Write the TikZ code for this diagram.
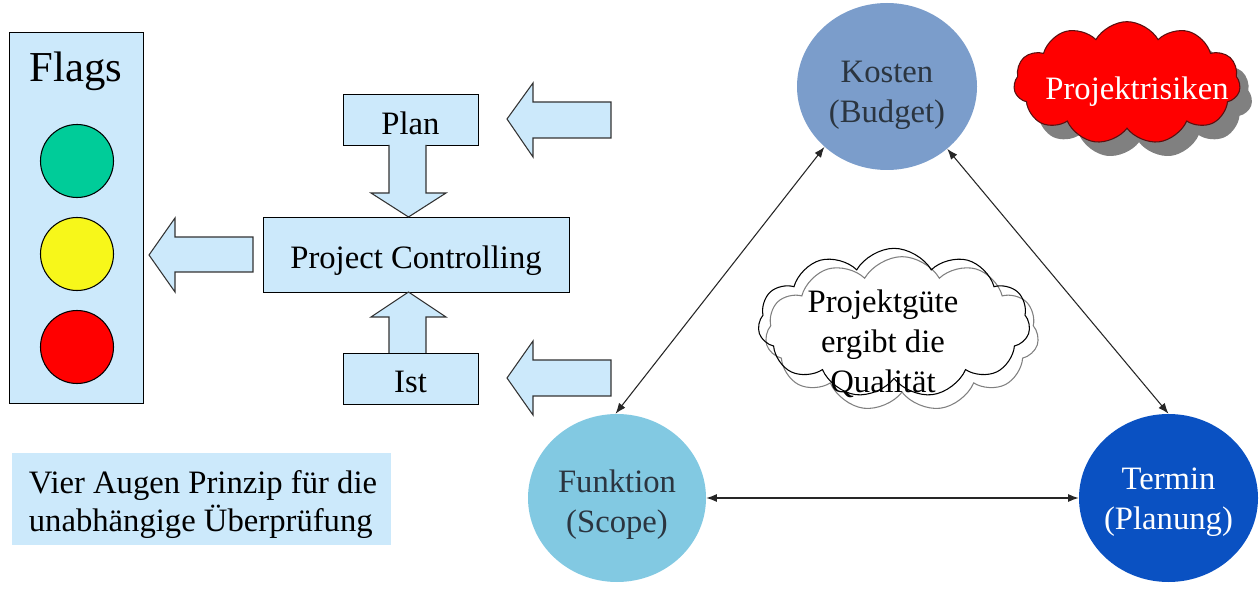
\documentclass[tikz,border=0pt]{standalone}
\usepackage{fontspec}
\setmainfont{Liberation Serif}
\usetikzlibrary{shapes.geometric,shapes.symbols,arrows.meta}
\definecolor{lblue}{HTML}{CCE9FB}
\definecolor{flaggreen}{HTML}{00CC99}
\definecolor{flagyellow}{HTML}{F7F71A}
\definecolor{flagred}{HTML}{FF0000}
\definecolor{kostenc}{HTML}{7B9DCB}
\definecolor{funktionc}{HTML}{82C9E2}
\definecolor{terminc}{HTML}{0A51C2}
\definecolor{darktext}{HTML}{2B3540}
\definecolor{cloudred}{HTML}{FF0000}
\definecolor{cloudedge}{HTML}{5A1010}
\begin{document}
\begin{tikzpicture}[x=0.75pt,y=-0.75pt,
  txt/.style={font=\fontsize{24.5}{30}\selectfont, align=center, inner sep=0pt},
  box/.style={draw=black, fill=lblue, line width=0.7pt, inner sep=0pt},
  flag/.style={circle, draw=black, line width=0.8pt, minimum size=54.75pt, inner sep=0pt},
  blockarrow/.style={draw=black!80, fill=lblue, line width=0.8pt, line join=miter},
  ell/.style={ellipse, inner sep=0pt},
  link/.style={draw=black!85, line width=0.8pt, {Latex[length=8pt,width=6pt]}-{Latex[length=8pt,width=6pt]}},
  puffy/.style={cloud, cloud puffs=11, cloud puff arc=120, aspect=1.8, inner sep=0pt}
]
\useasboundingbox (0,0) rectangle (1260,591);

% Flags panel
\node[box, minimum width=100.5pt, minimum height=278.25pt] (flags) at (76,217.5) {};
\node[font=\fontsize{32}{38}\selectfont, inner sep=0pt] (flagstitle) at (76,71) {Flags};
\node[flag, fill=flaggreen] (green) at (77,161) {};
\node[flag, fill=flagyellow] (yellow) at (77,254) {};
\node[flag, fill=flagred] (red) at (77,347) {};

% Controlling boxes
\node[box, minimum width=101.25pt, minimum height=38.25pt] (plan) at (410.5,119.5) {};
\node[txt] (plantext) at (410.5,123.5) {Plan};
\node[box, minimum width=229.5pt, minimum height=56.25pt] (pc) at (416,254.5) {};
\node[txt] (pctext) at (416,261) {Project Controlling};
\node[box, minimum width=101.25pt, minimum height=38.25pt] (ist) at (410.5,378.5) {};
\node[txt] (isttext) at (410.5,382) {Ist};

% block arrows
\draw[blockarrow] (149,255) -- (175,218) -- (175,237) -- (253,237) -- (253,272) -- (175,272) -- (175,292) -- cycle;
\draw[blockarrow] (507,119) -- (533,83) -- (533,102) -- (611,102) -- (611,138) -- (533,138) -- (533,157) -- cycle;
\draw[blockarrow] (507,378) -- (533,341) -- (533,360) -- (611,360) -- (611,396) -- (533,396) -- (533,415) -- cycle;
\draw[blockarrow] (389,145) -- (389,193) -- (371,193) -- (408.5,217) -- (446,193) -- (426,193) -- (426,145);
\draw[blockarrow] (389,353) -- (389,317) -- (371,317) -- (408.5,292) -- (446,317) -- (426,317) -- (426,353);

% Vier Augen
\node[fill=lblue, minimum width=284.25pt, minimum height=69pt, inner sep=0pt] (vier) at (201.5,499) {};
\node[txt, align=left, font=\fontsize{24.5}{28.5}\selectfont] (viertext) at (203,505) {Vier Augen Prinzip für die\\unabhängige Überprüfung};

% triangle
\node[ell, fill=kostenc, minimum width=135pt, minimum height=125.25pt] (kosten) at (887,86.5) {};
\node[txt, text=darktext] (kostentext) at (887,95) {Kosten\\(Budget)};
\node[ell, fill=funktionc, minimum width=133.5pt, minimum height=126pt] (funktion) at (617,498) {};
\node[txt, text=darktext] (funktiontext) at (617,505) {Funktion\\(Scope)};
\node[ell, fill=terminc, minimum width=134.25pt, minimum height=126pt] (termin) at (1168.5,498) {};
\node[txt, text=white] (termintext) at (1168.5,502) {Termin\\(Planung)};

\draw[link] (kosten.224) -- (funktion.91);
\draw[link] (kosten.314) -- (termin.90);
\draw[link] (funktion.east) -- (termin.west);

% quality cloud
\node[puffy, draw=black!50, line width=0.8pt, minimum width=205pt, minimum height=116pt] (cloudshadow) at (902,334) {};
\node[puffy, draw=black, line width=0.8pt, minimum width=204pt, minimum height=112pt] (cloudmain) at (894,323) {};
\node[txt] (guete) at (883,344) {Projektgüte\\ergibt die\\Qualität};

% risk cloud
\node[puffy, fill=black!50, minimum width=170pt, minimum height=92pt] (riskshadow) at (1139,97) {};
\node[puffy, fill=cloudred, draw=cloudedge, line width=0.8pt, minimum width=170pt, minimum height=92pt] (risk) at (1127,83) {};
\node[txt, text=white] (risktext) at (1137,92) {Projektrisiken};
\end{tikzpicture}
\end{document}
